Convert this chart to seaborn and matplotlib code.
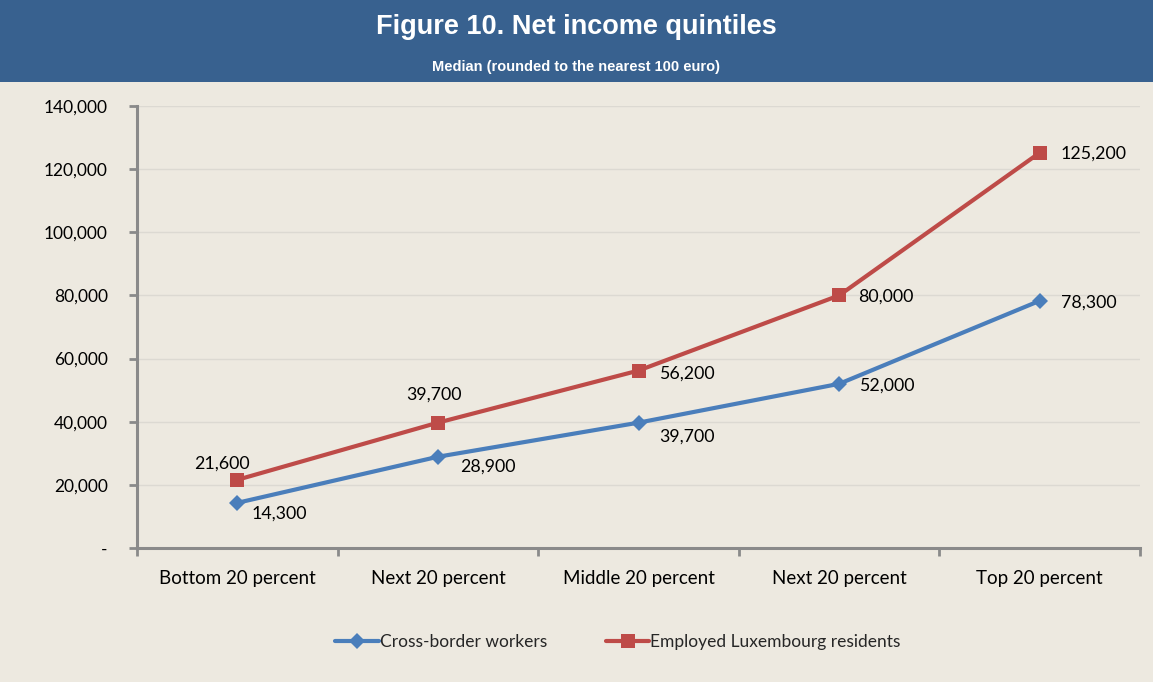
import matplotlib
matplotlib.use("Agg")
import matplotlib.pyplot as plt
import seaborn as sns
import pandas as pd
from matplotlib.ticker import FuncFormatter
from matplotlib.lines import Line2D

categories = ["Bottom 20 percent", "Next 20 percent", "Middle 20 percent", "Next 20 percent ", "Top 20 percent"]
tick_labels = ["Bottom 20 percent", "Next 20 percent", "Middle 20 percent", "Next 20 percent", "Top 20 percent"]
cross_border = [14300, 28900, 39700, 52000, 78300]
residents = [21600, 39700, 56200, 80000, 125200]
series_names = ["Cross-border workers", "Employed Luxembourg residents"]

BG = "#EDE9E0"
HEADER = "#38618F"
BLUE = "#4A7EBB"
RED = "#BE4B48"
AXC = "#8A8A8A"

sns.set_theme(style="white")
plt.rcParams['font.family'] = ['Lato', 'DejaVu Sans']

df = pd.DataFrame({
    "pos": list(range(len(categories))) * 2,
    "value": cross_border + residents,
    "series": [series_names[0]] * 5 + [series_names[1]] * 5,
})

fig = plt.figure(figsize=(11.53, 6.82), dpi=100)
fig.patch.set_facecolor(BG)
ax = fig.add_axes([137/1153, 1 - 548/682, (1140 - 137)/1153, (548 - 106)/682])
ax.set_facecolor(BG)

# header band
fig.patches.append(plt.Rectangle((0, 1 - 82/682), 1, 82/682, transform=fig.transFigure,
                                 facecolor=HEADER, edgecolor="none", zorder=0))
fig.text(0.5, 1 - 27/682, "Figure 10. Net income quintiles", ha="center", va="center",
         color="white", fontsize=19.5, fontweight="bold",
         family=['Liberation Sans Narrow', 'Liberation Sans'])
fig.text(0.5, 1 - 67/682, "Median (rounded to the nearest 100 euro)", ha="center", va="center",
         color="white", fontsize=10.5, fontweight="bold",
         family=['Liberation Sans Narrow', 'Liberation Sans'])

sns.lineplot(data=df, x="pos", y="value", hue="series", style="series",
             palette={series_names[0]: BLUE, series_names[1]: RED},
             markers={series_names[0]: "D", series_names[1]: "s"},
             dashes=False, linewidth=3, markersize=9, markeredgewidth=0,
             ax=ax, legend=False, sort=False)
for line in ax.get_lines():
    if line.get_marker() == "s":
        line.set_markersize(10.5)
    elif line.get_marker() == "D":
        line.set_markersize(8)

ax.set_xlim(-0.5, 4.5)
ax.set_ylim(0, 140000)
ax.set_yticks(range(0, 140001, 20000))
ax.yaxis.set_major_formatter(FuncFormatter(lambda v, p: "-" if v == 0 else f"{int(v):,}"))
ax.set_xticks(range(5))
ax.set_xticklabels(tick_labels)
ax.set_xticks([i + 0.5 for i in range(-1, 5)], minor=True)
ax.tick_params(axis="x", which="major", bottom=True, length=0, pad=16, labelsize=13.5, labelcolor="black")
ax.tick_params(axis="x", which="minor", bottom=True, length=6, width=2, color=AXC, direction="out")
ax.tick_params(axis="y", which="major", left=True, length=6, width=2, color=AXC, direction="out",
               labelsize=12.5, pad=15, labelcolor="black")
ax.set_xlabel("")
ax.set_ylabel("")
ax.grid(axis="y", color="#DCD9D2", linewidth=1)
ax.set_axisbelow(True)
for s in ["top", "right"]:
    ax.spines[s].set_visible(False)
for s in ["left", "bottom"]:
    ax.spines[s].set_color(AXC)
    ax.spines[s].set_linewidth(2.2)

# data labels (offsets in points)
red_offsets = [(-11, 12, "center", "center"), (-3, 20, "center", "center"), (15, -2, "left", "center"),
               (14, -1, "left", "center"), (15, -1, "left", "center")]
blue_offsets = [(10, -8, "left", "center"), (16, -7, "left", "center"), (15, -10, "left", "center"),
                (14, -1, "left", "center"), (15, -1, "left", "center")]
for i, v in enumerate(residents):
    dx, dy, ha, va = red_offsets[i]
    ax.annotate(f"{v:,}", (i, v), xytext=(dx, dy), textcoords="offset points",
                ha=ha, va=va, fontsize=12.8, color="black")
for i, v in enumerate(cross_border):
    dx, dy, ha, va = blue_offsets[i]
    ax.annotate(f"{v:,}", (i, v), xytext=(dx, dy), textcoords="offset points",
                ha=ha, va=va, fontsize=12.8, color="black")

# legend
handles = [Line2D([], [], color=BLUE, lw=3, marker="D", markersize=8, markeredgewidth=0),
           Line2D([], [], color=RED, lw=3, marker="s", markersize=10.5, markeredgewidth=0)]
fig.legend(handles, series_names, loc="center", bbox_to_anchor=(618/1153, 1 - 642/682),
           ncol=2, frameon=False, fontsize=12.5, handlelength=2.5, handletextpad=0.05,
           columnspacing=3.4)

fig.savefig("out.png", dpi=100, facecolor=BG)
